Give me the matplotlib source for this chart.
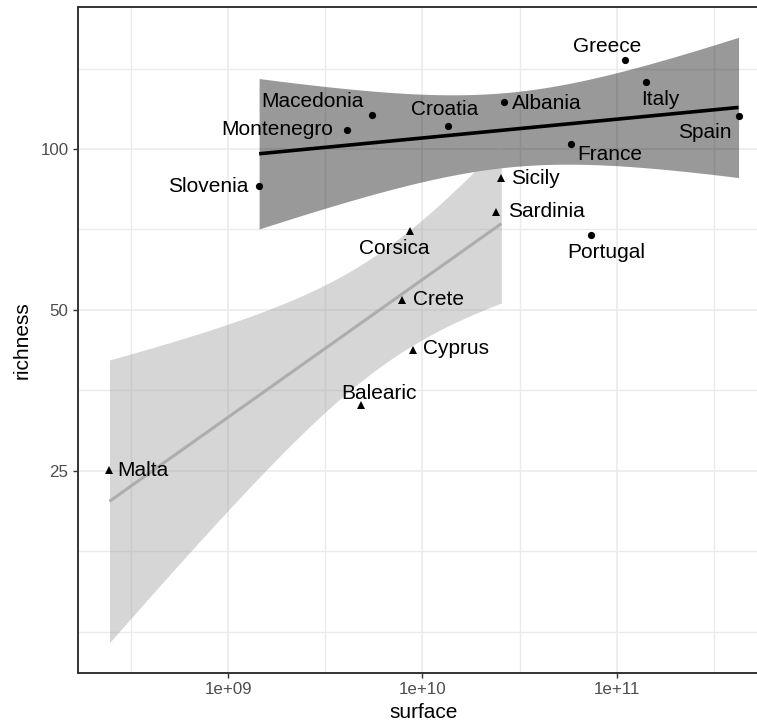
import numpy as np
import matplotlib
matplotlib.use("Agg")
import matplotlib.pyplot as plt
from matplotlib.ticker import FixedLocator, FixedFormatter, NullFormatter

plt.rcParams["font.family"] = ["Liberation Sans", "DejaVu Sans"]

# mainland countries (circles)
main_names = ["Slovenia", "Montenegro", "Macedonia", "Croatia", "Albania",
              "France", "Portugal", "Greece", "Italy", "Spain"]
main_surface = [1.44e9, 4.1e9, 5.5e9, 1.36e10, 2.62e10,
                5.85e10, 7.4e10, 1.1e11, 1.41e11, 4.25e11]
main_richness = [85.3, 108.5, 116, 110.5, 122.5, 102, 69, 147, 133.5, 115.5]

# islands (triangles)
isl_names = ["Malta", "Balearic", "Crete", "Corsica", "Cyprus", "Sardinia", "Sicily"]
isl_surface = [2.44e8, 4.8e9, 7.8e9, 8.6e9, 8.9e9, 2.38e10, 2.55e10]
isl_richness = [25.1, 33.2, 52.2, 70.3, 42.1, 76.3, 88.3]

x_ticks = [1e9, 1e10, 1e11]
x_labels = ["1e+09", "1e+10", "1e+11"]
y_ticks = [25, 50, 100]
y_labels = ["25", "50", "100"]

# label placement: (dx px, dy px up, ha)
offsets = {
    "Greece": (-17, 13, "center"), "Italy": (15, -18, "center"),
    "Albania": (8, -2, "left"), "Croatia": (-4, 16, "center"),
    "Spain": (-34, -17, "center"), "France": (6, -10, "left"),
    "Portugal": (15, -17, "center"), "Macedonia": (-8, 13, "right"),
    "Montenegro": (-14, 1, "right"), "Slovenia": (-11, -1, "right"),
    "Sicily": (10, -1, "left"), "Sardinia": (12, 0, "left"),
    "Corsica": (-16, -18, "center"), "Crete": (11, 0, "left"),
    "Cyprus": (10, 1, "left"), "Balearic": (18, 12, "center"),
    "Malta": (8, -1, "left"),
}


def lm_fit(xs, ys, tval):
    # linear model on log10(x), log2(y) with 95% confidence band
    lx = np.log10(xs)
    ly = np.log2(ys)
    n = len(lx)
    b, a = np.polyfit(lx, ly, 1)
    resid = ly - (a + b * lx)
    s = np.sqrt(np.sum(resid ** 2) / (n - 2))
    grid = np.linspace(lx.min(), lx.max(), 80)
    pred = a + b * grid
    se = s * np.sqrt(1 / n + (grid - lx.mean()) ** 2 / np.sum((lx - lx.mean()) ** 2))
    return 10 ** grid, 2 ** pred, 2 ** (pred - tval * se), 2 ** (pred + tval * se)


main_fit = lm_fit(np.array(main_surface), np.array(main_richness), 2.306)
isl_fit = lm_fit(np.array(isl_surface), np.array(isl_richness), 2.571)

fig = plt.figure(figsize=(7.57, 7.27), dpi=100)
ax = fig.add_axes([78 / 757, 54 / 727, 692 / 757, 666 / 727])
ax.set_xscale("log", base=10)
ax.set_yscale("log", base=2)

ax.fill_between(main_fit[0], main_fit[2], main_fit[3], color="black", alpha=0.4, lw=0, zorder=1)
ax.fill_between(isl_fit[0], isl_fit[2], isl_fit[3], color="#999999", alpha=0.4, lw=0, zorder=1)
ax.plot(main_fit[0], main_fit[1], color="black", lw=2.6, zorder=2, solid_capstyle="butt")
ax.plot(isl_fit[0], isl_fit[1], color="#ADADAD", lw=2.2, zorder=2, solid_capstyle="butt")

ax.plot(main_surface, main_richness, "o", color="black", ms=5.2, mew=0, zorder=3)
ax.plot(isl_surface, isl_richness, "^", color="black", ms=6, mew=0, zorder=3)

for names, xs, ys in [(main_names, main_surface, main_richness),
                      (isl_names, isl_surface, isl_richness)]:
    for name, x, y in zip(names, xs, ys):
        dx, dy, ha = offsets[name]
        ax.annotate(name, (x, y), xytext=(dx, dy), textcoords="offset pixels",
                    ha=ha, va="center", fontsize=15, color="black", zorder=4)

# limits: 5% expansion in transformed space
all_lx = np.log10(np.concatenate([main_surface, isl_surface]))
lo, hi = all_lx.min(), all_lx.max()
pad = (hi - lo) * 0.05
ax.set_xlim(10 ** (lo - pad), 10 ** (hi + pad))
all_ly = np.log2(np.concatenate([main_richness, isl_richness, main_fit[2], main_fit[3],
                                 isl_fit[2], isl_fit[3]]))
lo, hi = all_ly.min(), all_ly.max()
pad = (hi - lo) * 0.05
ax.set_ylim(2 ** (lo - pad), 2 ** (hi + pad))

ax.xaxis.set_major_locator(FixedLocator(x_ticks))
ax.xaxis.set_major_formatter(FixedFormatter(x_labels))
ax.xaxis.set_minor_locator(FixedLocator([10 ** 8.5, 10 ** 9.5, 10 ** 10.5, 10 ** 11.5]))
ax.xaxis.set_minor_formatter(NullFormatter())
ax.yaxis.set_major_locator(FixedLocator(y_ticks))
ax.yaxis.set_major_formatter(FixedFormatter(y_labels))
ax.yaxis.set_minor_locator(FixedLocator([12.5, 25 / np.sqrt(2), 50 / np.sqrt(2),
                                         100 / np.sqrt(2), 100 * np.sqrt(2)]))
ax.yaxis.set_minor_formatter(NullFormatter())

ax.grid(which="major", color="#EBEBEB", lw=1.2)
ax.grid(which="minor", color="#EBEBEB", lw=1.0)
ax.set_axisbelow(True)
ax.tick_params(which="major", length=3.8, width=1.0, color="#333333",
               labelsize=12.2, labelcolor="#4D4D4D", pad=3)
ax.tick_params(which="minor", length=0)
for side in ["left", "bottom", "top", "right"]:
    ax.spines[side].set_color("#333333")
    ax.spines[side].set_linewidth(1.4)

ax.set_xlabel("surface", fontsize=15, labelpad=4)
ax.set_ylabel("richness", fontsize=15, labelpad=6)

fig.savefig("out.png", dpi=100)
